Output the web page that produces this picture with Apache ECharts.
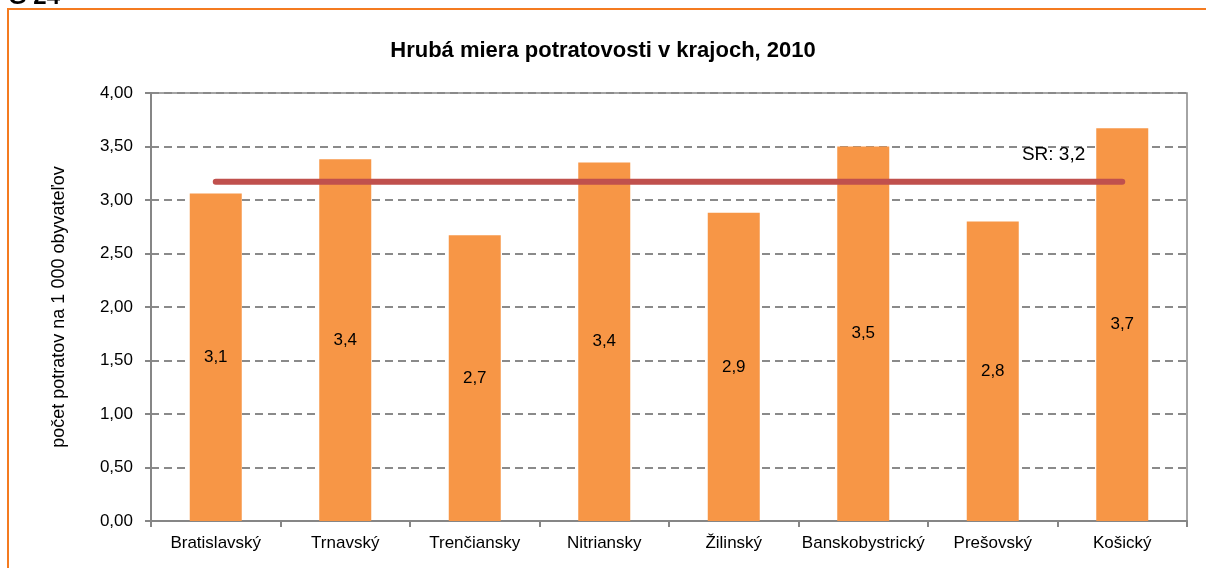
<!DOCTYPE html>
<html>
<head>
<meta charset="utf-8">
<script src="https://cdn.jsdelivr.net/npm/echarts@6/dist/echarts.min.js"></script>
<style>
html,body{margin:0;padding:0;background:#fff;}
#chart{width:1206px;height:568px;}
</style>
</head>
<body>
<div id="chart"></div>
<script>
var categories = ['Bratislavský','Trnavský','Trenčiansky','Nitriansky','Žilinský','Banskobystrický','Prešovský','Košický'];
var rates = [3.06, 3.38, 2.67, 3.35, 2.88, 3.50, 2.80, 3.67];
var srLine = [3.17, 3.17, 3.17, 3.17, 3.17, 3.17, 3.17, 3.17];
var srLabel = 'SR: 3,2';
var titleText = 'Hrubá miera potratovosti v krajoch, 2010';
var yAxisName = 'počet potratov na 1 000 obyvateľov';
var figureTag = 'G 24';

var FONT = '"Liberation Sans Narrow","Arial Narrow","Liberation Sans",Arial,sans-serif';
var chart = echarts.init(document.getElementById('chart'), null, {renderer:'canvas'});
chart.setOption({
  animation: false,
  backgroundColor: '#ffffff',
  textStyle: {fontFamily: FONT},
  title: {
    text: titleText,
    left: 'center',
    top: 35,
    textStyle: {fontFamily: FONT, fontSize: 22, fontWeight: 'bold', color: '#000'}
  },
  graphic: [
    {type:'rect', shape:{x:8, y:9, width:1400, height:800}, style:{fill:'none', stroke:'#F47B20', lineWidth:2}, z:100},
    {type:'text', left:8, top:-15, style:{text:figureTag, fontFamily:FONT, fontSize:24, fontWeight:'bold', fill:'#000'}, z:100}
  ],
  grid: {left:151, right:19, top:93, bottom:47, show:true, borderColor:'#868686', borderWidth:1.5, backgroundColor:'transparent'},
  xAxis: {
    type: 'category',
    data: categories,
    axisLine: {lineStyle:{color:'#868686', width:2}},
    axisTick: {show:true, length:6, lineStyle:{color:'#868686', width:2}},
    axisLabel: {color:'#000', fontSize:17, fontFamily:FONT, margin:14, interval:0}
  },
  yAxis: {
    type: 'value',
    min: 0, max: 4, interval: 0.5,
    name: yAxisName,
    nameLocation: 'middle',
    nameGap: 83,
    nameTextStyle: {color:'#000', fontSize:18, fontFamily:FONT},
    axisLine: {show:true, lineStyle:{color:'#868686', width:2}},
    axisTick: {show:true, length:6, lineStyle:{color:'#868686', width:2}},
    axisLabel: {color:'#000', fontSize:17, fontFamily:FONT, margin:18,
      formatter: function(v){ return v.toFixed(2).replace('.', ','); }},
    splitLine: {show:true, lineStyle:{color:'#8a8a8a', width:2, type:[8,5]}}
  },
  series: [
    {
      type: 'bar',
      data: rates,
      barWidth: 52,
      itemStyle: {color:'#F79646'},
      label: {show:true, position:'inside', color:'#000', fontSize:17, fontFamily:FONT,
        formatter: function(p){ return p.value.toFixed(1).replace('.', ','); }},
      z: 2
    },
    {
      type: 'line',
      data: srLine,
      symbol: 'none',
      lineStyle: {color:'#C0504D', width:6, cap:'round'},
      markPoint: {
        symbol: 'circle',
        symbolSize: 2,
        itemStyle: {color:'transparent'},
        label: {show:true, position:'left', distance:0, offset:[-36,-27], formatter: srLabel,
          color:'#000', fontSize:19, fontFamily:FONT},
        data: [{coord:[srLine.length - 1, srLine[srLine.length - 1]]}]
      },
      z: 3
    }
  ]
});
</script>
</body>
</html>
